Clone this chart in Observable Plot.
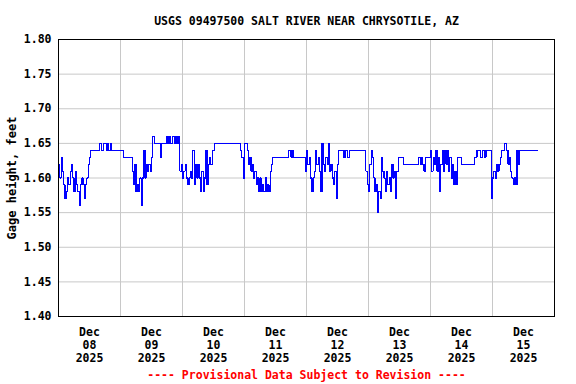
<!DOCTYPE html>
<html><head><meta charset="utf-8">
<script src="https://cdn.jsdelivr.net/npm/d3@7"></script>
<script src="https://cdn.jsdelivr.net/npm/@observablehq/plot@0.6"></script>
<style>html,body{margin:0;padding:0;background:#fff}</style>
</head><body><div id="chart"></div>
<script>
const title = "USGS 09497500 SALT RIVER NEAR CHRYSOTILE, AZ";
const yLabel = "Gage height, feet";
const caption = "---- Provisional Data Subject to Revision ----";
const monthLabel = "Dec";
const yearLabel = "2025";
const dayLabels = ["08", "09", "10", "11", "12", "13", "14", "15"];
const yTicks = [1.40, 1.45, 1.50, 1.55, 1.60, 1.65, 1.70, 1.75, 1.80];

// gage height, feet, half-hourly readings starting Dec 08 00:00
const dec08 = [1.62,1.60,1.63,1.61,1.59,1.57,1.58,1.60,1.59,1.61,1.62,1.60,1.58,1.61,1.59,1.58,
  1.56,1.59,1.60,1.59,1.57,1.59,1.60,1.62,1.63,1.64,1.64,1.64,1.64,1.64,1.64,1.64,
  1.65,1.64,1.64,1.65,1.65,1.64,1.65,1.64,1.65,1.64,1.64,1.64,1.64,1.64,1.64,1.64];
const dec09 = [1.64,1.64,1.63,1.63,1.63,1.63,1.63,1.63,1.63,1.61,1.59,1.62,1.58,1.59,1.58,1.60,
  1.56,1.60,1.64,1.60,1.62,1.61,1.62,1.61,1.63,1.66,1.65,1.65,1.65,1.65,1.65,1.63,
  1.65,1.65,1.65,1.65,1.66,1.65,1.66,1.65,1.66,1.66,1.65,1.66,1.65,1.66,1.61,1.62];
const dec10 = [1.60,1.61,1.62,1.60,1.59,1.60,1.61,1.60,1.64,1.59,1.62,1.60,1.62,1.60,1.58,1.61,
  1.58,1.60,1.64,1.59,1.62,1.63,1.62,1.64,1.64,1.65,1.65,1.65,1.65,1.65,1.65,1.65,
  1.65,1.65,1.65,1.65,1.65,1.65,1.65,1.65,1.65,1.65,1.65,1.65,1.65,1.64,1.63,1.60];
const dec11 = [1.65,1.65,1.64,1.62,1.63,1.61,1.62,1.60,1.61,1.59,1.60,1.58,1.60,1.58,1.59,1.58,
  1.60,1.58,1.59,1.58,1.61,1.62,1.63,1.63,1.63,1.63,1.63,1.63,1.63,1.63,1.63,1.63,
  1.63,1.63,1.64,1.64,1.63,1.64,1.63,1.63,1.63,1.63,1.63,1.63,1.63,1.63,1.63,1.61];
const dec12 = [1.64,1.62,1.63,1.60,1.58,1.60,1.61,1.64,1.62,1.63,1.61,1.58,1.65,1.62,1.61,1.63,
  1.62,1.65,1.61,1.62,1.60,1.59,1.61,1.57,1.62,1.64,1.64,1.64,1.64,1.63,1.64,1.64,
  1.63,1.64,1.64,1.64,1.64,1.64,1.64,1.64,1.64,1.64,1.64,1.64,1.64,1.64,1.61,1.59];
const dec13 = [1.58,1.62,1.64,1.63,1.60,1.58,1.59,1.55,1.58,1.57,1.63,1.61,1.60,1.58,1.61,1.59,
  1.60,1.58,1.62,1.60,1.61,1.57,1.61,1.63,1.63,1.63,1.63,1.62,1.62,1.62,1.62,1.62,
  1.62,1.62,1.62,1.62,1.62,1.62,1.62,1.63,1.62,1.63,1.62,1.61,1.63,1.63,1.63,1.63];
const dec14 = [1.64,1.61,1.63,1.62,1.64,1.61,1.63,1.58,1.62,1.64,1.61,1.64,1.62,1.64,1.61,1.63,
  1.60,1.62,1.59,1.61,1.59,1.63,1.63,1.63,1.62,1.62,1.62,1.62,1.62,1.62,1.62,1.62,
  1.62,1.62,1.63,1.63,1.64,1.64,1.64,1.63,1.64,1.64,1.63,1.64,1.64,1.64,1.64,1.57];
const dec15 = [1.60,1.61,1.60,1.62,1.61,1.62,1.63,1.64,1.64,1.65,1.65,1.64,1.62,1.63,1.61,1.60,
  1.59,1.60,1.59,1.64,1.62,1.64,1.64,1.64,1.64,1.64,1.64,1.64,1.64,1.64,1.64,1.64,
  1.64,1.64,1.64,1.64];

const series = [...dec08, ...dec09, ...dec10, ...dec11, ...dec12, ...dec13, ...dec14, ...dec15];
const start = Date.UTC(2025, 11, 8, 0, 0);
const stepMs = 30 * 60 * 1000;
const data = series.map((v, i) => ({t: new Date(start + i * stepMs), v}));

const noons = dayLabels.map((d, k) => new Date(Date.UTC(2025, 11, 8 + k, 12)));
const midnights = d3.range(0, 9).map(k => new Date(Date.UTC(2025, 11, 8 + k, 0)));
const labelFor = new Map(noons.map((d, k) => [+d, `${monthLabel}\n${dayLabels[k]}\n${yearLabel}`]));

const font = "'DejaVu Sans Mono', monospace";

const chart = Plot.plot({
  width: 576,
  height: 384,
  marginLeft: 58,
  marginRight: 22,
  marginTop: 39,
  marginBottom: 68,
  style: {fontFamily: font, fontWeight: "bold", fontSize: "11.5px", background: "#fff", color: "#000"},
  x: {type: "utc", domain: [midnights[0], midnights[8]]},
  y: {domain: [1.40, 1.80]},
  marks: [
    Plot.gridY(yTicks, {stroke: "#c8c8c8", strokeOpacity: 1}),
    Plot.gridX(midnights, {stroke: "#c8c8c8", strokeOpacity: 1}),
    Plot.line(data, {x: "t", y: "v", stroke: "#0000ff", strokeWidth: 1.1, curve: "step-after", shapeRendering: "crispEdges"}),
    Plot.frame({stroke: "#000", strokeWidth: 1}),
    Plot.axisY(yTicks, {tickSize: 0, tickPadding: 7, tickFormat: d => d.toFixed(2), label: null, fill: "#000"}),
    Plot.axisX(noons, {tickSize: 0, tickPadding: 10, tickFormat: d => labelFor.get(+d), label: null, lineHeight: 1.13, fill: "#000"}),
    Plot.text([title], {frameAnchor: "top", dy: -18.5, lineAnchor: "middle", fill: "#000"}),
    Plot.text([yLabel], {frameAnchor: "left", dx: -46, rotate: -90, textAnchor: "middle", lineAnchor: "middle", fill: "#000", fontSize: 12}),
    Plot.text([caption], {frameAnchor: "bottom", dy: 58.5, lineAnchor: "middle", fill: "#ff0000"})
  ]
});
document.getElementById("chart").appendChild(chart);
</script>
</body></html>
